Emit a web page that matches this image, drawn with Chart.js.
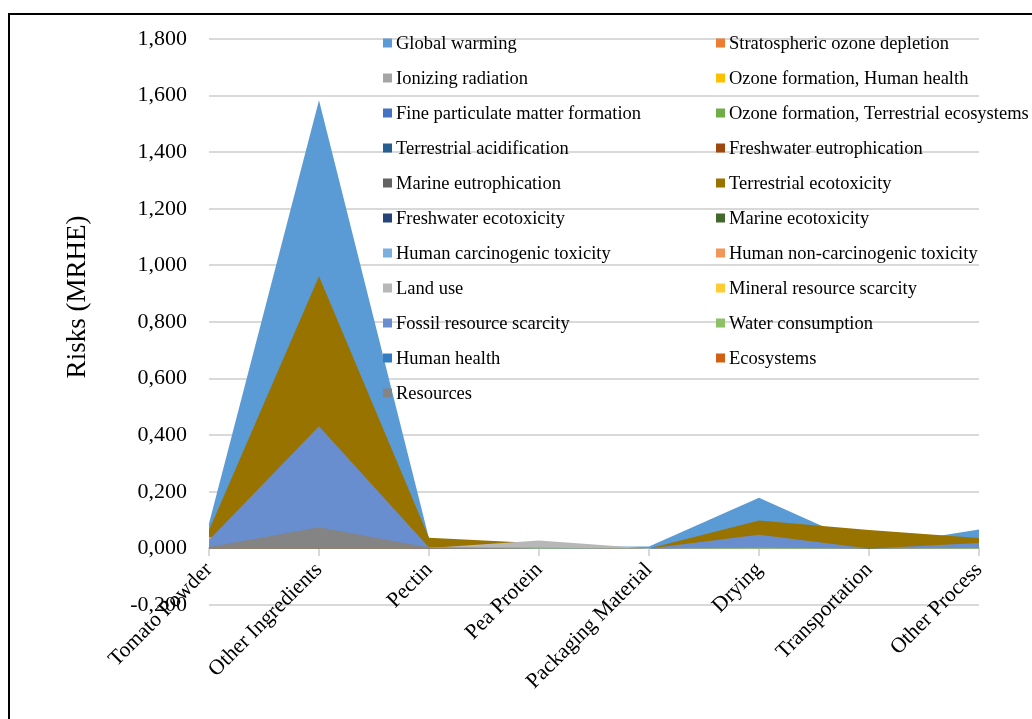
<!DOCTYPE html>
<html>
<head>
<meta charset="utf-8">
<script src="https://cdn.jsdelivr.net/npm/chart.js@4.4.1/dist/chart.umd.min.js"></script>
<style>
  html, body { margin: 0; padding: 0; background: #fff; }
  #wrap { position: relative; width: 1032px; height: 719px; overflow: hidden; }
  #wrap canvas { position: absolute; left: 0; top: 0; }
  #frame { position: absolute; left: 8px; top: 13px; width: 1100px; height: 800px;
           border-left: 2px solid #000; border-top: 2px solid #000; box-sizing: border-box; pointer-events: none; }
</style>
</head>
<body>
<div id="wrap">
  <canvas id="chart" width="1032" height="719"></canvas>
  <div id="frame"></div>
</div>
<script>
// Process stages on the category axis
const categories = ['Tomato Powder', 'Other Ingredients', 'Pectin', 'Pea Protein',
                    'Packaging Material', 'Drying', 'Transportation', 'Other Process'];

// Impact category values per stage (MRHE)
const globalWarming          = [0.088, 1.584, 0.035, 0.005, 0.007, 0.179, 0.005, 0.067];
const stratosphericOzone     = [0.002, 0.010, 0.001, 0.001, 0.000, 0.002, 0.001, 0.001];
const ionizingRadiation      = [0.001, 0.012, 0.001, 0.001, 0.000, 0.004, 0.001, 0.002];
const ozoneHumanHealth       = [0.002, 0.015, 0.001, 0.001, 0.000, 0.005, 0.003, 0.002];
const fineParticulate        = [0.004, 0.040, 0.002, 0.002, 0.000, 0.010, 0.006, 0.004];
const ozoneTerrestrial       = [0.002, 0.016, 0.001, 0.001, 0.000, 0.005, 0.003, 0.002];
const terrestrialAcid        = [0.003, 0.030, 0.002, 0.001, 0.000, 0.008, 0.004, 0.003];
const freshwaterEutro        = [0.001, 0.020, 0.001, 0.001, 0.000, 0.001, 0.000, 0.001];
const marineEutro            = [0.001, 0.015, 0.001, 0.001, 0.000, 0.000, 0.000, 0.000];
const terrestrialEcotox      = [0.064, 0.962, 0.038, 0.018, 0.000, 0.099, 0.065, 0.037];
const freshwaterEcotox       = [0.001, 0.010, 0.001, 0.000, 0.000, 0.002, 0.000, 0.001];
const marineEcotox           = [0.001, 0.012, 0.001, 0.000, 0.000, 0.002, 0.000, 0.001];
const humanCarcinogenic      = [0.004, 0.030, 0.002, 0.001, 0.000, 0.003, 0.000, 0.002];
const humanNonCarcinogenic   = [0.040, 0.020, 0.005, 0.002, 0.000, 0.010, 0.000, 0.006];
const landUse                = [0.002, 0.020, 0.001, 0.028, 0.000, 0.004, 0.000, 0.002];
const mineralScarcity        = [0.001, 0.008, 0.000, 0.000, 0.000, 0.001, 0.000, 0.001];
const fossilScarcity         = [0.030, 0.432, 0.003, 0.002, 0.000, 0.048, 0.000, 0.019];
const waterConsumption       = [0.001, 0.010, 0.000, 0.001, 0.000, 0.002, 0.000, 0.001];
const humanHealth            = [0.003, 0.050, 0.001, 0.000, 0.000, 0.000, 0.000, 0.000];
const ecosystems             = [0.002, 0.030, 0.001, 0.000, 0.000, 0.000, 0.000, 0.000];
const resources              = [0.005, 0.075, 0.003, 0.000, 0.000, 0.000, 0.000, 0.000];

const seriesNames = [
  'Global warming', 'Stratospheric ozone depletion',
  'Ionizing radiation', 'Ozone formation, Human health',
  'Fine particulate matter formation', 'Ozone formation, Terrestrial ecosystems',
  'Terrestrial acidification', 'Freshwater eutrophication',
  'Marine eutrophication', 'Terrestrial ecotoxicity',
  'Freshwater ecotoxicity', 'Marine ecotoxicity',
  'Human carcinogenic toxicity', 'Human non-carcinogenic toxicity',
  'Land use', 'Mineral resource scarcity',
  'Fossil resource scarcity', 'Water consumption',
  'Human health', 'Ecosystems',
  'Resources'
];

const seriesValues = [
  globalWarming, stratosphericOzone, ionizingRadiation, ozoneHumanHealth,
  fineParticulate, ozoneTerrestrial, terrestrialAcid, freshwaterEutro,
  marineEutro, terrestrialEcotox, freshwaterEcotox, marineEcotox,
  humanCarcinogenic, humanNonCarcinogenic, landUse, mineralScarcity,
  fossilScarcity, waterConsumption, humanHealth, ecosystems, resources
];

const seriesColors = [
  '#5B9BD5', '#ED7D31', '#A5A5A5', '#FFC000', '#4472C4', '#70AD47',
  '#255E91', '#9E480E', '#636363', '#997300', '#264478', '#43682B',
  '#7CAFDD', '#F1975A', '#B7B7B7', '#FFCD33', '#698ED0', '#8CC168',
  '#327DC2', '#D26012', '#848484'
];

const yAxisTitle = 'Risks (MRHE)';

// Y tick values with comma decimal separator
const formatTick = v => {
  if (Math.abs(v) < 1e-9) v = 0;
  return v.toFixed(3).replace('.', ',');
};

// Vertical axis title, centred a little above the middle of the value axis
const axisTitle = {
  id: 'axisTitle',
  afterDraw(chart) {
    const ctx = chart.ctx;
    ctx.save();
    ctx.translate(78, 297);
    ctx.rotate(-Math.PI / 2);
    ctx.font = '27px "Liberation Serif"';
    ctx.fillStyle = '#000';
    ctx.textAlign = 'center';
    ctx.textBaseline = 'middle';
    ctx.fillText(yAxisTitle, 0, 0);
    ctx.restore();
  }
};

// Two-column legend drawn over the plot, row by row
const twoColumnLegend = {
  id: 'twoColumnLegend',
  afterDraw(chart) {
    const ctx = chart.ctx;
    ctx.save();
    ctx.font = '18.5px "Liberation Serif"';
    ctx.textBaseline = 'middle';
    ctx.textAlign = 'left';
    seriesNames.forEach((name, i) => {
      const col = i % 2;
      const row = Math.floor(i / 2);
      const x = col ? 716 : 383;
      const y = 43 + row * 35;
      ctx.fillStyle = seriesColors[i];
      ctx.fillRect(x, y - 4.5, 9, 9);
      ctx.fillStyle = '#000';
      ctx.fillText(name, x + 13, y + 1);
    });
    ctx.restore();
  }
};

Chart.defaults.font.family = '"Liberation Serif", "Times New Roman", serif';
Chart.defaults.color = '#000';

new Chart(document.getElementById('chart'), {
  type: 'line',
  data: {
    labels: categories,
    datasets: seriesValues.map((values, i) => ({
      label: seriesNames[i],
      data: values,
      // first series sits at the back, later series are painted over it
      order: -i,
      fill: 'origin',
      backgroundColor: seriesColors[i],
      borderColor: 'transparent',
      borderWidth: 0,
      pointRadius: 0,
      tension: 0
    }))
  },
  options: {
    responsive: false,
    animation: false,
    layout: { padding: { top: 39, right: 53, bottom: 114, left: 0 } },
    plugins: {
      legend: { display: false },
      tooltip: { enabled: false }
    },
    scales: {
      x: {
        position: { y: 0 },
        offset: false,
        grid: { drawOnChartArea: false, drawTicks: true, tickLength: 7, color: '#d9d9d9', lineWidth: 2 },
        border: { display: true, color: '#d9d9d9', width: 2 },
        ticks: { font: { size: 21.5 }, color: '#000', minRotation: 45, maxRotation: 45, padding: 2, autoSkip: false },
        afterFit: s => { s.height = 35; }
      },
      y: {
        min: -0.2,
        max: 1.8,
        ticks: { stepSize: 0.2, font: { size: 22 }, color: '#000', padding: 22, callback: formatTick },
        grid: { color: '#d9d9d9', lineWidth: 2, drawTicks: false },
        border: { display: false },
        afterFit: s => { s.width = 209; }
      }
    }
  },
  plugins: [axisTitle, twoColumnLegend]
});
</script>
</body>
</html>
